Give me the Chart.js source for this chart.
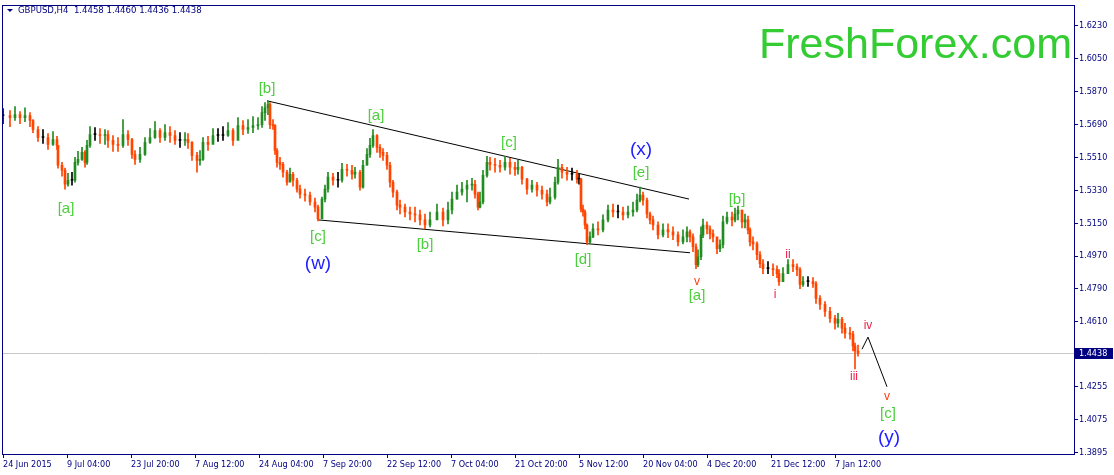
<!DOCTYPE html>
<html>
<head>
<meta charset="utf-8">
<script src="https://cdn.jsdelivr.net/npm/chart.js@4.4.0/dist/chart.umd.min.js"></script>
<style>
  body { margin: 0; background: #fff; }
  canvas { display: block; }
</style>
</head>
<body>
<canvas id="graficoLibra" width="1114" height="475"></canvas>
<script>
// GBPUSD H4, uma amostra a cada poucas barras (indice da barra H4)
const barras = [
  0, 7, 12, 17, 22, 27, 30, 35, 40, 45, 50, 54, 55, 59, 62, 65, 69, 72, 75, 79,
  82, 84, 87, 92, 97, 102, 105, 110, 115, 120, 125, 129, 132, 137, 142, 147, 152, 157, 162, 167,
  172, 177, 182, 185, 189, 194, 197, 200, 205, 210, 215, 220, 225, 230, 235, 240, 245, 250, 255, 259,
  262, 265, 267, 270, 272, 274, 277, 280, 284, 287, 290, 294, 297, 302, 307, 312, 315, 319, 322, 325,
  330, 335, 339, 344, 349, 352, 357, 360, 364, 367, 370, 374, 377, 380, 384, 387, 390, 394, 397, 402,
  407, 412, 417, 422, 427, 434, 440, 445, 449, 454, 459, 464, 469, 472, 475, 477, 480, 484, 487, 492,
  497, 502, 507, 512, 515, 519, 524, 529, 534, 539, 544, 547, 552, 555, 559, 564, 569, 574, 576, 578,
  580, 582, 584, 587, 590, 595, 600, 605, 610, 615, 620, 625, 630, 634, 637, 640, 644, 647, 650, 655,
  660, 665, 670, 675, 680, 684, 687, 690, 693, 695, 698, 700, 704, 707, 710, 714, 717, 720, 724, 729,
  732, 735, 739, 742, 745, 747, 750, 754, 757, 760, 765, 770, 774, 776, 780, 785, 790, 794, 797, 800,
  805, 810, 813, 817, 822, 827, 832, 835, 839, 842, 847, 850, 852, 855
]
const fechamentos = [
  1.5739, 1.5728, 1.5744, 1.5728, 1.5739, 1.5712, 1.5663, 1.5619, 1.5619, 1.5581,
  1.5608, 1.5576, 1.5467, 1.5440, 1.5363, 1.5385, 1.5385, 1.5483, 1.5499, 1.5538,
  1.5483, 1.5576, 1.5635, 1.5635, 1.5630, 1.5635, 1.5603, 1.5581, 1.5576, 1.5635,
  1.5608, 1.5527, 1.5499, 1.5527, 1.5592, 1.5619, 1.5657, 1.5619, 1.5646, 1.5630,
  1.5603, 1.5603, 1.5608, 1.5592, 1.5521, 1.5494, 1.5499, 1.5592, 1.5581, 1.5630,
  1.5630, 1.5630, 1.5657, 1.5603, 1.5684, 1.5663, 1.5674, 1.5684, 1.5690, 1.5755,
  1.5782, 1.5799, 1.5690, 1.5684, 1.5548, 1.5483, 1.5472, 1.5429, 1.5374, 1.5418,
  1.5385, 1.5336, 1.5309, 1.5304, 1.5266, 1.5238, 1.5173, 1.5282, 1.5336, 1.5402,
  1.5385, 1.5385, 1.5445, 1.5440, 1.5418, 1.5429, 1.5347, 1.5467, 1.5527, 1.5576,
  1.5630, 1.5565, 1.5538, 1.5521, 1.5467, 1.5374, 1.5320, 1.5249, 1.5238, 1.5211,
  1.5200, 1.5195, 1.5168, 1.5140, 1.5168, 1.5211, 1.5168, 1.5222, 1.5282, 1.5320,
  1.5336, 1.5358, 1.5363, 1.5309, 1.5238, 1.5266, 1.5412, 1.5483, 1.5472, 1.5467,
  1.5456, 1.5483, 1.5456, 1.5445, 1.5456, 1.5391, 1.5336, 1.5358, 1.5331, 1.5309,
  1.5266, 1.5293, 1.5374, 1.5456, 1.5429, 1.5418, 1.5418, 1.5391, 1.5391, 1.5227,
  1.5211, 1.5140, 1.5048, 1.5075, 1.5119, 1.5113, 1.5168, 1.5222, 1.5211, 1.5211,
  1.5195, 1.5211, 1.5222, 1.5276, 1.5304, 1.5276, 1.5200, 1.5168, 1.5140, 1.5086,
  1.5113, 1.5102, 1.5086, 1.5048, 1.5075, 1.5102, 1.5075, 1.5021, 1.4923, 1.4966,
  1.5086, 1.5140, 1.5119, 1.5091, 1.5075, 1.5010, 1.5032, 1.5157, 1.5184, 1.5168,
  1.5200, 1.5222, 1.5157, 1.5168, 1.5113, 1.5048, 1.5037, 1.4977, 1.4928, 1.4901,
  1.4901, 1.4896, 1.4874, 1.4830, 1.4874, 1.4923, 1.4912, 1.4896, 1.4814, 1.4830,
  1.4830, 1.4819, 1.4738, 1.4705, 1.4667, 1.4629, 1.4602, 1.4624, 1.4575, 1.4547,
  1.4542, 1.4477, 1.4450, 1.4438
]
const maximos = [
  1.5777, 1.5766, 1.5788, 1.5761, 1.5782, 1.5755, 1.5717, 1.5679, 1.5663, 1.5641,
  1.5652, 1.5625, 1.5576, 1.5483, 1.5451, 1.5423, 1.5429, 1.5510, 1.5543, 1.5565,
  1.5548, 1.5603, 1.5679, 1.5674, 1.5668, 1.5663, 1.5657, 1.5630, 1.5619, 1.5717,
  1.5657, 1.5614, 1.5548, 1.5565, 1.5619, 1.5668, 1.5706, 1.5668, 1.5690, 1.5679,
  1.5657, 1.5646, 1.5646, 1.5641, 1.5597, 1.5538, 1.5548, 1.5619, 1.5625, 1.5668,
  1.5668, 1.5679, 1.5701, 1.5668, 1.5728, 1.5712, 1.5717, 1.5733, 1.5728, 1.5788,
  1.5810, 1.5820, 1.5810, 1.5717, 1.5690, 1.5559, 1.5510, 1.5483, 1.5440, 1.5451,
  1.5429, 1.5396, 1.5358, 1.5336, 1.5320, 1.5287, 1.5249, 1.5293, 1.5358, 1.5429,
  1.5423, 1.5429, 1.5478, 1.5472, 1.5467, 1.5456, 1.5440, 1.5494, 1.5559, 1.5614,
  1.5663, 1.5635, 1.5581, 1.5559, 1.5538, 1.5483, 1.5385, 1.5331, 1.5276, 1.5255,
  1.5238, 1.5238, 1.5222, 1.5200, 1.5211, 1.5255, 1.5233, 1.5266, 1.5320, 1.5358,
  1.5374, 1.5385, 1.5396, 1.5385, 1.5320, 1.5320, 1.5440, 1.5516, 1.5510, 1.5505,
  1.5494, 1.5516, 1.5505, 1.5483, 1.5494, 1.5461, 1.5396, 1.5385, 1.5374, 1.5353,
  1.5331, 1.5342, 1.5402, 1.5499, 1.5472, 1.5456, 1.5451, 1.5440, 1.5418, 1.5396,
  1.5249, 1.5222, 1.5146, 1.5102, 1.5146, 1.5157, 1.5195, 1.5249, 1.5255, 1.5249,
  1.5238, 1.5244, 1.5266, 1.5309, 1.5347, 1.5320, 1.5287, 1.5211, 1.5189, 1.5157,
  1.5146, 1.5146, 1.5130, 1.5102, 1.5113, 1.5130, 1.5113, 1.5091, 1.5037, 1.5004,
  1.5130, 1.5173, 1.5157, 1.5135, 1.5113, 1.5070, 1.5059, 1.5189, 1.5211, 1.5211,
  1.5233, 1.5244, 1.5222, 1.5200, 1.5189, 1.5124, 1.5075, 1.5048, 1.4994, 1.4950,
  1.4939, 1.4928, 1.4917, 1.4896, 1.4907, 1.4950, 1.4950, 1.4928, 1.4907, 1.4858,
  1.4858, 1.4852, 1.4830, 1.4754, 1.4721, 1.4689, 1.4645, 1.4656, 1.4634, 1.4602,
  1.4580, 1.4558, 1.4493, 1.4482
]
const minimos = [
  1.5695, 1.5679, 1.5712, 1.5695, 1.5706, 1.5679, 1.5646, 1.5597, 1.5587, 1.5554,
  1.5576, 1.5554, 1.5451, 1.5407, 1.5336, 1.5353, 1.5358, 1.5374, 1.5467, 1.5494,
  1.5456, 1.5472, 1.5565, 1.5603, 1.5587, 1.5581, 1.5565, 1.5543, 1.5543, 1.5565,
  1.5576, 1.5505, 1.5472, 1.5483, 1.5521, 1.5587, 1.5614, 1.5592, 1.5603, 1.5592,
  1.5581, 1.5565, 1.5576, 1.5559, 1.5494, 1.5429, 1.5467, 1.5494, 1.5548, 1.5592,
  1.5597, 1.5603, 1.5625, 1.5576, 1.5608, 1.5635, 1.5641, 1.5646, 1.5663, 1.5674,
  1.5712, 1.5744, 1.5668, 1.5663, 1.5527, 1.5456, 1.5445, 1.5402, 1.5358, 1.5385,
  1.5353, 1.5320, 1.5287, 1.5271, 1.5249, 1.5211, 1.5162, 1.5189, 1.5266, 1.5320,
  1.5358, 1.5347, 1.5374, 1.5407, 1.5391, 1.5396, 1.5331, 1.5342, 1.5467, 1.5510,
  1.5565, 1.5538, 1.5510, 1.5494, 1.5445, 1.5347, 1.5293, 1.5222, 1.5200, 1.5184,
  1.5168, 1.5157, 1.5140, 1.5119, 1.5130, 1.5179, 1.5135, 1.5146, 1.5200, 1.5282,
  1.5304, 1.5266, 1.5331, 1.5287, 1.5222, 1.5233, 1.5255, 1.5402, 1.5440, 1.5429,
  1.5429, 1.5440, 1.5418, 1.5412, 1.5418, 1.5363, 1.5309, 1.5320, 1.5298, 1.5282,
  1.5244, 1.5255, 1.5282, 1.5363, 1.5396, 1.5385, 1.5385, 1.5369, 1.5363, 1.5211,
  1.5189, 1.5119, 1.5032, 1.5037, 1.5070, 1.5086, 1.5102, 1.5157, 1.5184, 1.5179,
  1.5168, 1.5179, 1.5189, 1.5211, 1.5266, 1.5249, 1.5179, 1.5146, 1.5113, 1.5064,
  1.5075, 1.5070, 1.5059, 1.5026, 1.5037, 1.5048, 1.5048, 1.4994, 1.4901, 1.4912,
  1.4950, 1.5070, 1.5091, 1.5064, 1.5048, 1.4983, 1.4994, 1.5015, 1.5146, 1.5135,
  1.5157, 1.5168, 1.5124, 1.5124, 1.5091, 1.5026, 1.5004, 1.4950, 1.4907, 1.4874,
  1.4874, 1.4863, 1.4852, 1.4809, 1.4830, 1.4885, 1.4885, 1.4863, 1.4792, 1.4803,
  1.4803, 1.4798, 1.4711, 1.4678, 1.4640, 1.4607, 1.4569, 1.4580, 1.4547, 1.4520,
  1.4515, 1.4450, 1.4352, 1.4422
]

const rotulosData = ['24 Jun 2015', '9 Jul 04:00', '23 Jul 20:00', '7 Aug 12:00', '24 Aug 04:00',
  '7 Sep 20:00', '22 Sep 12:00', '7 Oct 04:00', '21 Oct 20:00', '5 Nov 12:00', '20 Nov 04:00',
  '4 Dec 20:00', '21 Dec 12:00', '7 Jan 12:00']
const rotulosPreco = ['1.6230', '1.6050', '1.5870', '1.5690', '1.5510', '1.5330', '1.5150',
  '1.4970', '1.4790', '1.4610', '1.4255', '1.4075', '1.3895']
const precoAtual = 1.4438
const cabecalho = 'GBPUSD,H4  1.4458 1.4460 1.4436 1.4438'

// linhas do triangulo e projecao
const linhaTopo = [{ x: 264, y: 1.5820 }, { x: 686, y: 1.5282 }]
const linhaBase = [{ x: 315, y: 1.5168 }, { x: 687, y: 1.4988 }]
const projecao = [{ x: 859, y: 1.4460 }, { x: 865, y: 1.4526 }, { x: 884, y: 1.4254 }]

// marcacao das ondas: texto, barra, preco, tipo
const ondas = [
  ['[a]', 63, 1.5227, 'verde'],
  ['[b]', 264, 1.5886, 'verde'],
  ['[a]', 373, 1.5739, 'verde'],
  ['[c]', 315, 1.5075, 'verde'],
  ['(w)', 315, 1.4928, 'azul'],
  ['[b]', 422, 1.5032, 'verde'],
  ['[c]', 506, 1.5592, 'verde'],
  ['(x)', 638, 1.5554, 'azul'],
  ['[e]', 638, 1.5423, 'verde'],
  ['[d]', 580, 1.4950, 'verde'],
  ['v', 694, 1.4830, 'laranja'],
  ['[a]', 694, 1.4754, 'verde'],
  ['[b]', 734, 1.5276, 'verde'],
  ['ii', 785, 1.4977, 'vermelho'],
  ['i', 772, 1.4760, 'vermelho'],
  ['iv', 865, 1.4591, 'vermelho'],
  ['iii', 851, 1.4308, 'vermelho'],
  ['v', 884, 1.4199, 'laranja'],
  ['[c]', 885, 1.4107, 'verde'],
  ['(y)', 886, 1.3976, 'azul']
]

const estilos = {
  verde: { cor: '#4ccf3c', fonte: '15px "Liberation Sans", Arial, sans-serif' },
  azul: { cor: '#1f1fff', fonte: '19px "Liberation Sans", Arial, sans-serif' },
  vermelho: { cor: '#f0204a', fonte: '12px "Liberation Sans", Arial, sans-serif' },
  laranja: { cor: '#ff3c10', fonte: '12px "Liberation Sans", Arial, sans-serif' }
}

const azulEixo = '#000080'
const fonteEixo = { family: '"DejaVu Sans Condensed", "DejaVu Sans", sans-serif', size: 9 }

// corpo da vela vai do fechamento anterior ao atual
const corpos = barras.map((b, i) => ({ x: b, y: [i == 0 ? fechamentos[0] : fechamentos[i - 1], fechamentos[i]] }))
const sombras = barras.map((b, i) => ({ x: b, y: [minimos[i], maximos[i]] }))
const coresVelas = fechamentos.map((v, i) => {
  if (i == 0 || v == fechamentos[i - 1]) return '#000000'
  return v > fechamentos[i - 1] ? '#228b22' : '#ff4500'
})

const desenhos = {
  id: 'desenhos',
  beforeDatasetsDraw(chart) {
    const { ctx, chartArea: a, scales: { y } } = chart
    const yp = Math.round(y.getPixelForValue(precoAtual)) + 0.5
    ctx.save()
    ctx.strokeStyle = '#c8c8c8'
    ctx.lineWidth = 1
    ctx.beginPath()
    ctx.moveTo(a.left, yp)
    ctx.lineTo(a.right, yp)
    ctx.stroke()
    ctx.restore()
  },
  afterDraw(chart) {
    const { ctx, chartArea: a, scales: { x, y } } = chart
    ctx.save()

    // moldura
    ctx.strokeStyle = azulEixo
    ctx.lineWidth = 1
    ctx.strokeRect(Math.round(a.left) - 0.5, Math.round(a.top) - 0.5, Math.round(a.right - a.left) + 1, Math.round(a.bottom - a.top) + 1)

    // marca d'agua
    ctx.font = '43px "Liberation Sans", Arial, sans-serif'
    ctx.fillStyle = '#33cc33'
    ctx.textAlign = 'right'
    ctx.textBaseline = 'alphabetic'
    ctx.fillText('FreshForex.com', 1072, 58)

    // cabecalho
    ctx.fillStyle = azulEixo
    ctx.beginPath()
    ctx.moveTo(7, 9)
    ctx.lineTo(13, 9)
    ctx.lineTo(10, 12)
    ctx.closePath()
    ctx.fill()
    ctx.font = '9.5px "DejaVu Sans Condensed", "DejaVu Sans", sans-serif'
    ctx.textAlign = 'left'
    ctx.textBaseline = 'middle'
    ctx.fillText(cabecalho, 18, 11)

    // ondas
    ctx.textAlign = 'center'
    ondas.forEach(([texto, barra, preco, tipo]) => {
      ctx.font = estilos[tipo].fonte
      ctx.fillStyle = estilos[tipo].cor
      ctx.fillText(texto, x.getPixelForValue(barra), y.getPixelForValue(preco))
    })

    // caixa do preco atual
    const yp = Math.round(y.getPixelForValue(precoAtual))
    ctx.fillStyle = azulEixo
    ctx.fillRect(a.right + 1, yp - 5, 38, 11)
    ctx.fillStyle = '#ffffff'
    ctx.font = '9px "DejaVu Sans Condensed", "DejaVu Sans", sans-serif'
    ctx.textAlign = 'left'
    ctx.fillText(precoAtual.toFixed(4), a.right + 5, yp + 0.5)
    ctx.restore()
  }
}

const graficoLibra = document.getElementById('graficoLibra')

new Chart(graficoLibra, {
  type: 'bar',
  data: {
    datasets: [{
      type: 'bar',
      data: corpos,
      backgroundColor: coresVelas,
      barThickness: 2,
      minBarLength: 1,
      borderWidth: 0,
      grouped: false
    }, {
      type: 'bar',
      data: sombras,
      backgroundColor: coresVelas,
      barThickness: 1,
      borderWidth: 0,
      grouped: false
    }, {
      type: 'line',
      data: linhaTopo,
      borderColor: '#000000',
      borderWidth: 1,
      pointRadius: 0
    }, {
      type: 'line',
      data: linhaBase,
      borderColor: '#000000',
      borderWidth: 1,
      pointRadius: 0
    }, {
      type: 'line',
      data: projecao,
      borderColor: '#000000',
      borderWidth: 1,
      pointRadius: 0
    }]
  },
  options: {
    responsive: false,
    animation: false,
    events: [],
    layout: { padding: { left: 3, top: 3, right: 0, bottom: 0 } },
    plugins: { legend: { display: false }, tooltip: { enabled: false } },
    scales: {
      x: {
        type: 'linear',
        min: 0,
        max: 1071,
        offset: false,
        afterBuildTicks: (s) => { s.ticks = rotulosData.map((t, i) => ({ value: i * 64 })) },
        afterFit: (s) => { s.height = 21 },
        ticks: {
          callback: (v, i) => rotulosData[i],
          align: 'start',
          autoSkip: false,
          maxRotation: 0,
          padding: 1,
          color: azulEixo,
          font: fonteEixo
        },
        grid: { drawOnChartArea: false, offset: false, tickLength: 4, color: azulEixo },
        border: { color: azulEixo }
      },
      y: {
        position: 'right',
        min: 1.3886,
        max: 1.6337,
        afterBuildTicks: (s) => { s.ticks = rotulosPreco.map((t) => ({ value: parseFloat(t) })) },
        afterFit: (s) => { s.width = 40 },
        ticks: {
          callback: (v, i) => rotulosPreco[i],
          padding: 1,
          color: azulEixo,
          font: fonteEixo
        },
        grid: { drawOnChartArea: false, tickLength: 4, color: azulEixo },
        border: { color: azulEixo }
      }
    }
  },
  plugins: [desenhos]
})
</script>
</body>
</html>
